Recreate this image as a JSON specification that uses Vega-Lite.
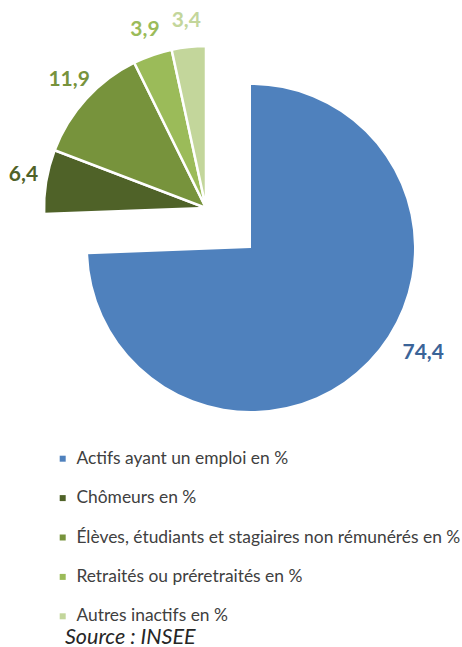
{
  "$schema": "https://vega.github.io/schema/vega-lite/v6.json",
  "autosize": {"type": "none"},
  "width": 422,
  "height": 496,
  "padding": {"left": 40, "top": 0, "right": 0, "bottom": 151},
  "config": {
    "view": {"stroke": null},
    "locale": {"number": {"decimal": ",", "thousands": " ", "grouping": [3], "currency": ["", " €"]}}
  },
  "title": {
    "text": "Source : INSEE",
    "orient": "bottom",
    "anchor": "start",
    "frame": "group",
    "offset": 2,
    "dx": 25,
    "font": "Lato",
    "fontSize": 21.5,
    "fontStyle": "italic",
    "fontWeight": "normal",
    "color": "#262626"
  },
  "data": {
    "values": [
      {"order": 1, "category": "Actifs ayant un emploi en %", "value": 74.4},
      {"order": 2, "category": "Chômeurs en %", "value": 6.4},
      {"order": 3, "category": "Élèves, étudiants et stagiaires non rémunérés en %", "value": 11.9},
      {"order": 4, "category": "Retraités ou préretraités en %", "value": 3.9},
      {"order": 5, "category": "Autres inactifs en %", "value": 3.4}
    ]
  },
  "encoding": {
    "color": {
      "field": "category",
      "type": "nominal",
      "sort": null,
      "scale": {
        "domain": [
          "Actifs ayant un emploi en %",
          "Chômeurs en %",
          "Élèves, étudiants et stagiaires non rémunérés en %",
          "Retraités ou préretraités en %",
          "Autres inactifs en %"
        ],
        "range": ["#4F81BD", "#4F6228", "#77933C", "#9BBB59", "#C3D69B"]
      },
      "legend": {
        "title": null,
        "orient": "none",
        "legendX": 14,
        "legendY": 450,
        "symbolType": "square",
        "symbolSize": 36,
        "symbolStrokeWidth": 0,
        "labelFont": "Lato",
        "labelFontSize": 17.4,
        "labelColor": "#404040",
        "labelOffset": 5,
        "rowPadding": 20.4,
        "labelLimit": 500
      }
    },
    "order": {"field": "order", "type": "quantitative"}
  },
  "layer": [
    {
      "mark": {"type": "arc", "outerRadius": 163},
      "encoding": {
        "theta": {"field": "value", "type": "quantitative", "stack": true, "scale": {"domain": [0, 100]}},
        "opacity": {"condition": {"test": "datum.order == 1", "value": 1}, "value": 0}
      }
    },
    {
      "mark": {"type": "arc", "outerRadius": 162, "stroke": "white", "strokeWidth": 2.5, "xOffset": -45, "yOffset": -40},
      "encoding": {
        "theta": {"field": "value", "type": "quantitative", "stack": true},
        "opacity": {"condition": {"test": "datum.order > 1", "value": 1}, "value": 0}
      }
    },
    {
      "mark": {"type": "text", "radius": 178, "dx": 44, "dy": -18, "font": "Lato", "fontSize": 21, "fontWeight": "bold", "align": "center", "baseline": "middle"},
      "encoding": {
        "theta": {"field": "value", "type": "quantitative", "stack": true},
        "text": {"field": "value", "type": "quantitative", "format": ".1f"},
        "color": {"value": "#3B6498"},
        "opacity": {"condition": {"test": "datum.order == 1", "value": 1}, "value": 0}
      }
    },
    {
      "mark": {"type": "text", "radius": 185, "dy": -3, "font": "Lato", "fontSize": 21, "fontWeight": "bold", "align": "center", "baseline": "middle", "xOffset": -45, "yOffset": -40},
      "encoding": {
        "theta": {"field": "value", "type": "quantitative", "stack": true},
        "text": {"field": "value", "type": "quantitative", "format": ".1f"},
        "opacity": {"condition": {"test": "datum.order > 1", "value": 1}, "value": 0}
      }
    }
  ]
}
